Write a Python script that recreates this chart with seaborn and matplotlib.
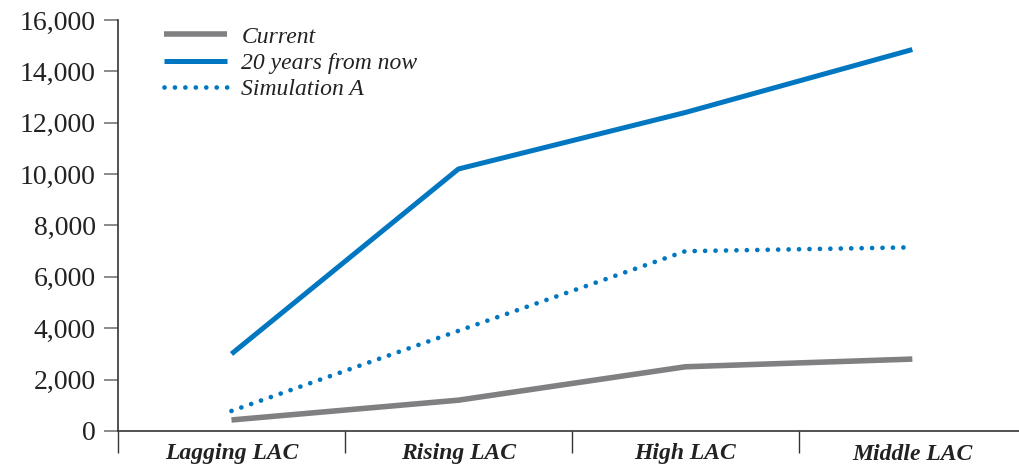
import matplotlib
matplotlib.use("Agg")
import matplotlib.pyplot as plt
import seaborn as sns
import pandas as pd
from matplotlib.ticker import FixedLocator, FuncFormatter

categories = ["Lagging LAC", "Rising LAC", "High LAC", "Middle LAC"]
current = [430, 1200, 2500, 2800]
twenty_years = [3000, 10200, 12400, 14850]
simulation_a = [780, 3900, 7000, 7150]
series_names = ["Current", "20 years from now", "Simulation A"]

df = pd.DataFrame({
    "category": categories * 3,
    "value": current + twenty_years + simulation_a,
    "series": [series_names[0]] * 4 + [series_names[1]] * 4 + [series_names[2]] * 4,
})

sns.set_theme(style="white")
plt.rcParams["font.family"] = ["Liberation Serif", "DejaVu Serif"]

fig = plt.figure(figsize=(10.19, 4.67), dpi=100)
ax = fig.add_axes([118 / 1019, (467 - 431) / 467, (1019 - 118) / 1019, 411 / 467])

styles = {
    "Current": dict(color="#808083", lw=4.0, ls="-"),
    "20 years from now": dict(color="#0077C0", lw=3.6, ls="-"),
    "Simulation A": dict(color="#0077C0", lw=3.4, ls=(0, (0.01, 2.2))),
}
for name in series_names:
    st = styles[name]
    sub = df[df["series"] == name]
    sns.lineplot(data=sub, x="category", y="value", ax=ax, color=st["color"],
                 linewidth=st["lw"], linestyle=st["ls"], label=name,
                 dash_capstyle="round", solid_capstyle="butt", sort=False)

ax.set_xlim(-0.5, 3.47)
ax.set_ylim(0, 16000)
ax.set_xlabel("")
ax.set_ylabel("")

for s in ["top", "right"]:
    ax.spines[s].set_visible(False)
for s in ["left", "bottom"]:
    ax.spines[s].set_color("#333333")
    ax.spines[s].set_linewidth(1.2)

ax.yaxis.set_major_locator(FixedLocator(range(0, 16001, 2000)))
ax.yaxis.set_major_formatter(FuncFormatter(lambda v, p: f"{int(v):,}"))
ax.tick_params(axis="y", which="major", direction="out", length=10, width=1.2,
               color="#777777", labelsize=20, labelcolor="#222222", pad=6, left=True)

ax.set_xticks(range(len(categories)))
ax.set_xticklabels(categories, fontsize=17, fontweight="bold", fontstyle="italic",
                   color="#222222")
ax.tick_params(axis="x", which="major", length=0, pad=9)
ax.xaxis.set_minor_locator(FixedLocator([-0.5, 0.5, 1.5, 2.5]))
ax.tick_params(axis="x", which="minor", direction="out", length=16, width=1.0,
               color="#333333", bottom=True)

leg = ax.legend(loc="upper left", bbox_to_anchor=(0.027, 1.037), frameon=False,
                prop={"family": "Liberation Serif", "style": "italic", "size": 17},
                handlelength=2.7, handletextpad=0.6, labelspacing=0.2)
for t in leg.get_texts():
    t.set_color("#222222")

fig.savefig("out.png", dpi=100)
